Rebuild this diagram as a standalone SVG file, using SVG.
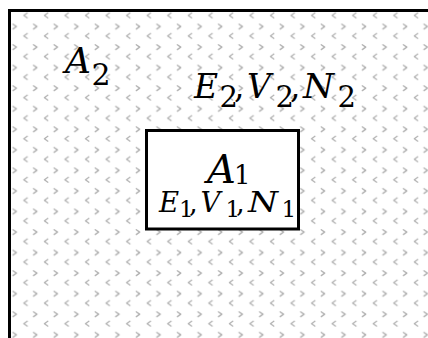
<svg xmlns="http://www.w3.org/2000/svg" width="428" height="338" viewBox="0 0 428 338">
<style>
.m{font-family:"DejaVu Serif","Liberation Serif",serif;font-style:italic;fill:#000}
.s{font-style:normal}
.ch{fill:none;stroke:#b0b0b0;stroke-width:1.3;stroke-linecap:round;stroke-linejoin:round}
</style>
<defs>
<pattern id="pat" patternUnits="userSpaceOnUse" x="0" y="0" width="20.55" height="20.55">
<rect width="20.55" height="20.55" fill="#fff"/>
<polyline class="ch" points="13,3.6 16.4,6 13,8.4"/>
<polyline class="ch" points="6.7,13 3.3,15.4 6.7,17.8"/>
</pattern>
</defs>
<g id="A2">
<rect x="9.5" y="10.5" width="430" height="340" fill="url(#pat)" stroke="#000" stroke-width="3"/>
<text class="m" font-size="36" y="73.3"><tspan x="65">A</tspan><tspan class="s" x="91.5" y="85" font-size="30">2</tspan></text>
<text class="m" font-size="33" y="98.3"><tspan x="194">E</tspan><tspan class="s" x="219.5" y="106.7" font-size="29">2</tspan><tspan class="s" x="234" y="98.3">,</tspan><tspan x="247">V</tspan><tspan class="s" x="275.5" y="106.7" font-size="29">2</tspan><tspan class="s" x="290" y="98.3">,</tspan><tspan x="303" textLength="31" lengthAdjust="spacingAndGlyphs">N</tspan><tspan class="s" x="337.5" y="106.7" font-size="29">2</tspan></text>
</g>
<g id="A1">
<rect x="146.5" y="130.5" width="152" height="98.5" fill="#fff" stroke="#000" stroke-width="3"/>
<text class="m" font-size="40" y="182.5"><tspan x="207">A</tspan><tspan class="s" x="234" y="184" font-size="26">1</tspan></text>
<text class="m" font-size="27.5" y="211.7"><tspan x="159">E</tspan><tspan class="s" x="179" y="216.5" font-size="23">1</tspan><tspan class="s" x="189" y="211.7">,</tspan><tspan x="200.5">V</tspan><tspan class="s" x="225.5" y="216.5" font-size="23">1</tspan><tspan class="s" x="236" y="211.7">,</tspan><tspan x="248" textLength="30" lengthAdjust="spacingAndGlyphs">N</tspan><tspan class="s" x="281.5" y="216.5" font-size="23">1</tspan></text>
</g>
</svg>
